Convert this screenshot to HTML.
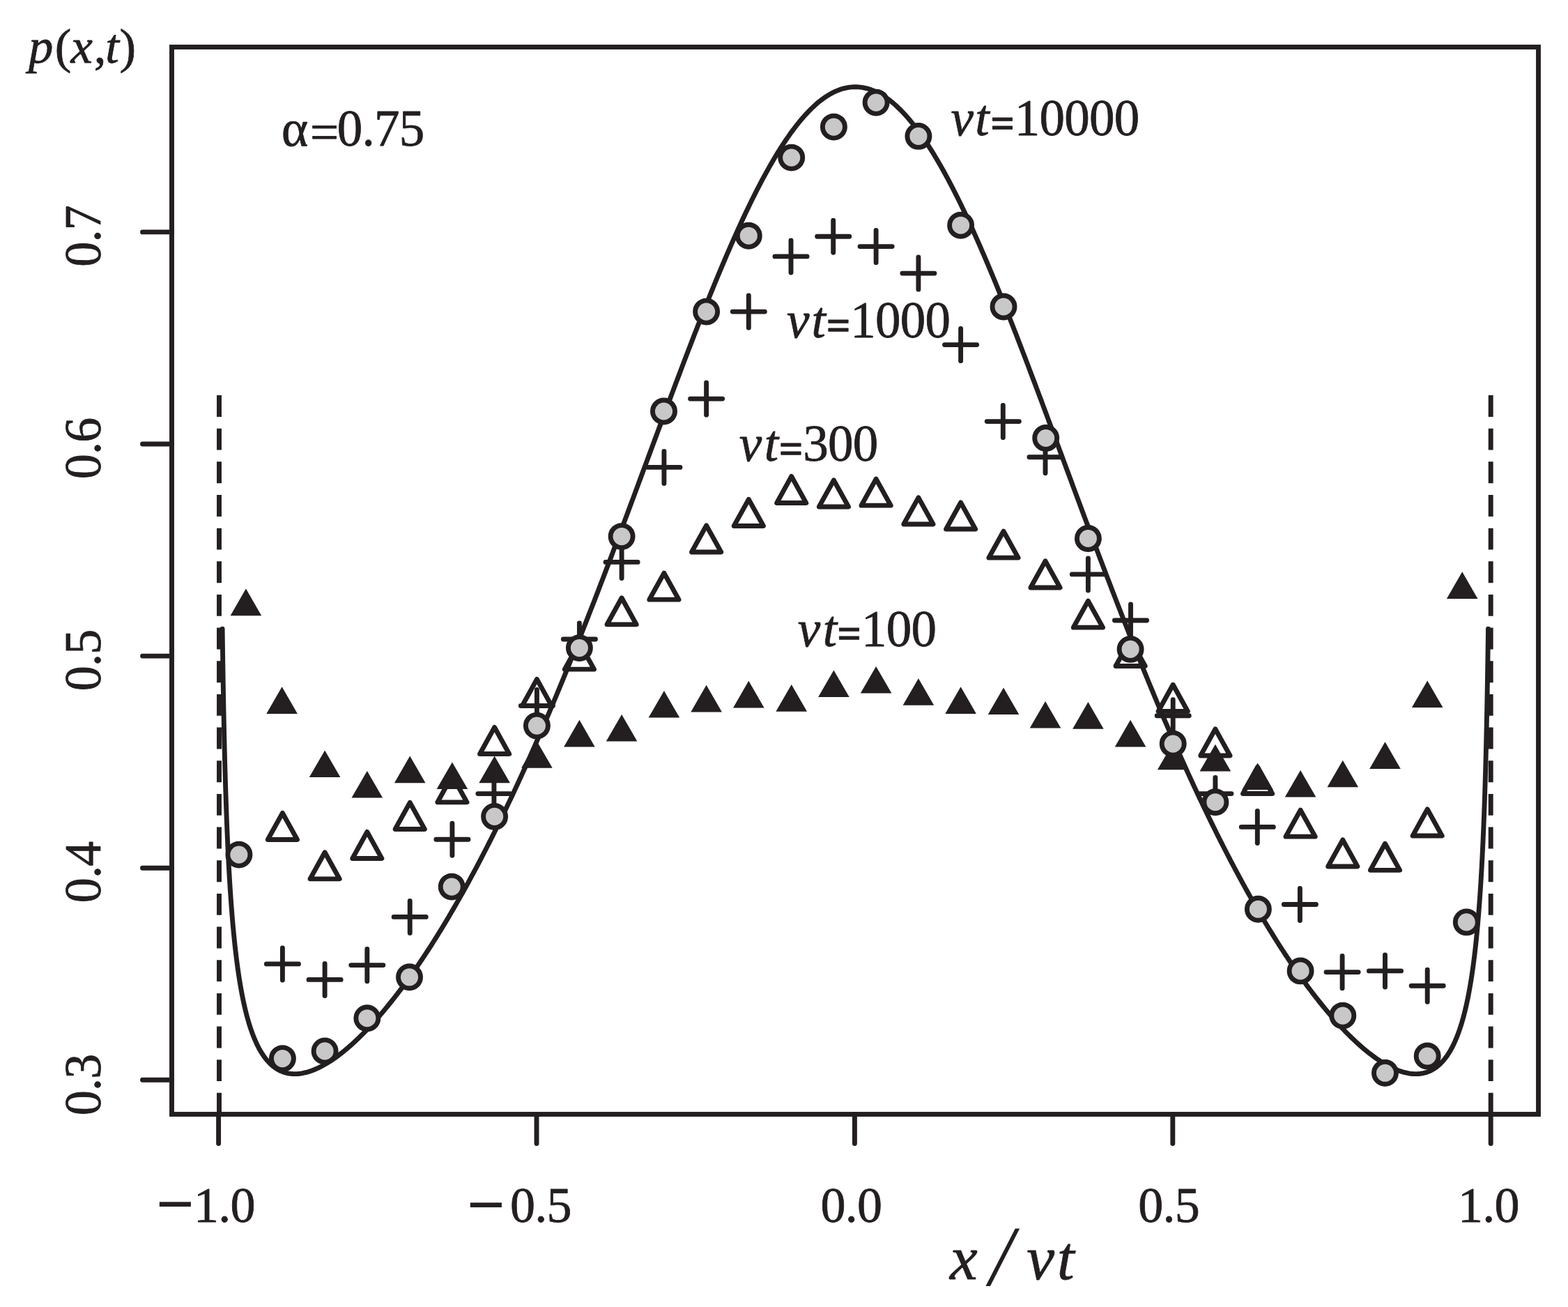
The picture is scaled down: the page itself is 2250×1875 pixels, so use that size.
<!DOCTYPE html>
<html lang="en"><head><meta charset="utf-8"><title>p(x,t) versus x/vt, alpha=0.75</title>
<style>
html,body{margin:0;padding:0;background:#fff;}
body{width:2250px;height:1875px;overflow:hidden;}
svg{display:block;}
text{font-family:"Liberation Serif","DejaVu Serif",serif;fill:#231f20;stroke:#231f20;stroke-width:0.8px;stroke-linejoin:round;}
.i{font-style:italic;}
.b{font-weight:bold;}
</style></head><body>
<svg xmlns="http://www.w3.org/2000/svg" width="2250" height="1875" viewBox="0 0 2250 1875">
<rect x="0" y="0" width="2250" height="1875" fill="#ffffff"/>
<line x1="314.50" y1="567.00" x2="314.50" y2="1598.50" stroke="#231f20" stroke-width="6.90" stroke-dasharray="30.90 16.76"/>
<line x1="2139.20" y1="567.00" x2="2139.20" y2="1598.50" stroke="#231f20" stroke-width="6.90" stroke-dasharray="30.90 16.76"/>
<path d="M319.09 902.10 L319.09 902.35 L319.10 903.09 L319.12 904.31 L319.14 906.03 L319.17 908.21 L319.20 910.86 L319.24 913.95 L319.29 917.48 L319.34 921.43 L319.40 925.77 L319.47 930.50 L319.54 935.58 L319.62 941.00 L319.70 946.74 L319.79 952.76 L319.89 959.06 L319.99 965.60 L320.10 972.37 L320.21 979.35 L320.34 986.50 L320.46 993.81 L320.60 1001.27 L320.74 1008.85 L320.88 1016.52 L321.04 1024.29 L321.19 1032.12 L321.36 1040.01 L321.53 1047.94 L321.71 1055.89 L321.89 1063.85 L322.08 1071.82 L322.28 1079.77 L322.48 1087.71 L322.69 1095.61 L322.90 1103.48 L323.12 1111.30 L323.35 1119.07 L323.58 1126.78 L323.82 1134.43 L324.07 1142.01 L324.32 1149.51 L324.58 1156.94 L324.84 1164.28 L325.11 1171.55 L325.39 1178.72 L325.67 1185.81 L325.96 1192.81 L326.25 1199.71 L326.55 1206.52 L326.86 1213.24 L327.17 1219.86 L327.49 1226.39 L327.82 1232.82 L328.15 1239.16 L328.49 1245.39 L328.83 1251.54 L329.18 1257.58 L329.54 1263.54 L329.90 1269.39 L330.27 1275.16 L330.65 1280.83 L331.03 1286.40 L331.42 1291.89 L331.81 1297.28 L332.21 1302.59 L332.62 1307.80 L333.03 1312.93 L333.45 1317.97 L333.87 1322.93 L334.30 1327.80 L334.74 1332.58 L335.18 1337.29 L335.63 1341.91 L336.08 1346.45 L336.54 1350.92 L337.01 1355.30 L337.48 1359.61 L337.96 1363.84 L338.45 1368.00 L338.94 1372.08 L339.44 1376.09 L339.94 1380.03 L340.45 1383.90 L340.96 1387.70 L341.49 1391.44 L342.01 1395.10 L342.55 1398.70 L343.09 1402.24 L343.63 1405.71 L344.19 1409.11 L344.74 1412.46 L345.31 1415.74 L345.88 1418.97 L346.45 1422.13 L347.04 1425.24 L347.62 1428.28 L348.22 1431.28 L348.82 1434.21 L349.43 1437.09 L350.04 1439.92 L350.66 1442.69 L351.28 1445.41 L351.91 1448.08 L352.55 1450.70 L353.19 1453.27 L353.84 1455.79 L354.49 1458.26 L355.15 1460.68 L355.82 1463.06 L356.49 1465.38 L357.17 1467.66 L357.85 1469.90 L358.54 1472.09 L359.24 1474.24 L359.94 1476.34 L360.65 1478.41 L361.36 1480.42 L362.08 1482.40 L362.81 1484.34 L363.54 1486.23 L364.28 1488.09 L365.02 1489.90 L365.77 1491.68 L366.53 1493.41 L367.29 1495.11 L368.06 1496.78 L368.83 1498.40 L369.61 1499.99 L370.39 1501.54 L371.18 1503.05 L371.98 1504.53 L372.78 1505.98 L373.59 1507.39 L374.41 1508.77 L375.23 1510.11 L376.05 1511.42 L376.88 1512.69 L377.72 1513.94 L378.57 1515.15 L379.41 1516.32 L380.27 1517.47 L381.13 1518.59 L382.00 1519.67 L382.87 1520.73 L383.75 1521.75 L384.63 1522.74 L385.52 1523.71 L386.42 1524.64 L387.32 1525.55 L388.22 1526.42 L389.14 1527.27 L390.06 1528.09 L390.98 1528.88 L391.91 1529.65 L392.85 1530.38 L393.79 1531.09 L394.73 1531.77 L395.69 1532.43 L396.65 1533.06 L397.61 1533.66 L398.58 1534.23 L399.56 1534.78 L400.54 1535.31 L401.52 1535.80 L402.52 1536.28 L403.51 1536.72 L404.52 1537.15 L405.53 1537.54 L406.54 1537.92 L407.56 1538.27 L408.59 1538.59 L409.62 1538.89 L410.66 1539.17 L411.70 1539.42 L412.75 1539.65 L413.81 1539.85 L414.87 1540.03 L415.93 1540.19 L417.00 1540.33 L418.08 1540.44 L419.16 1540.53 L420.25 1540.60 L421.34 1540.64 L422.44 1540.67 L423.55 1540.67 L424.66 1540.64 L425.77 1540.60 L426.89 1540.53 L428.02 1540.45 L429.15 1540.34 L430.29 1540.21 L431.43 1540.05 L432.58 1539.88 L433.73 1539.68 L434.89 1539.47 L436.06 1539.23 L437.23 1538.97 L438.40 1538.69 L439.58 1538.39 L440.77 1538.07 L441.96 1537.72 L443.16 1537.36 L444.36 1536.98 L445.57 1536.57 L446.78 1536.15 L448.00 1535.70 L449.22 1535.24 L450.45 1534.75 L451.69 1534.24 L452.92 1533.72 L454.17 1533.17 L455.42 1532.60 L456.68 1532.02 L457.94 1531.41 L459.20 1530.78 L460.47 1530.14 L461.75 1529.47 L463.03 1528.79 L464.32 1528.08 L465.61 1527.35 L466.91 1526.61 L468.21 1525.84 L469.52 1525.06 L470.83 1524.26 L472.15 1523.43 L473.48 1522.59 L474.80 1521.72 L476.14 1520.84 L477.48 1519.94 L478.82 1519.02 L480.17 1518.08 L481.53 1517.12 L482.88 1516.14 L484.25 1515.14 L485.62 1514.12 L486.99 1513.08 L488.37 1512.02 L489.76 1510.95 L491.15 1509.85 L492.54 1508.74 L493.94 1507.60 L495.35 1506.45 L496.76 1505.27 L498.17 1504.08 L499.59 1502.87 L501.02 1501.63 L502.45 1500.38 L503.88 1499.11 L505.32 1497.82 L506.77 1496.51 L508.22 1495.18 L509.67 1493.84 L511.13 1492.47 L512.60 1491.08 L514.07 1489.67 L515.54 1488.25 L517.02 1486.80 L518.51 1485.33 L520.00 1483.85 L521.49 1482.34 L522.99 1480.82 L524.49 1479.28 L526.00 1477.71 L527.51 1476.13 L529.03 1474.53 L530.55 1472.90 L532.08 1471.26 L533.61 1469.60 L535.15 1467.92 L536.69 1466.21 L538.24 1464.49 L539.79 1462.75 L541.35 1460.99 L542.91 1459.20 L544.47 1457.40 L546.04 1455.58 L547.62 1453.74 L549.20 1451.88 L550.78 1449.99 L552.37 1448.09 L553.96 1446.17 L555.56 1444.22 L557.16 1442.26 L558.77 1440.27 L560.38 1438.27 L562.00 1436.24 L563.62 1434.20 L565.24 1432.13 L566.87 1430.04 L568.51 1427.94 L570.15 1425.81 L571.79 1423.66 L573.44 1421.49 L575.09 1419.30 L576.75 1417.08 L578.41 1414.85 L580.08 1412.60 L581.75 1410.32 L583.42 1408.02 L585.10 1405.71 L586.78 1403.37 L588.47 1401.01 L590.16 1398.62 L591.86 1396.22 L593.56 1393.80 L595.27 1391.35 L596.98 1388.88 L598.69 1386.39 L600.41 1383.88 L602.13 1381.35 L603.86 1378.79 L605.59 1376.21 L607.32 1373.62 L609.06 1370.99 L610.81 1368.35 L612.56 1365.68 L614.31 1363.00 L616.06 1360.29 L617.82 1357.55 L619.59 1354.80 L621.36 1352.02 L623.13 1349.22 L624.91 1346.40 L626.69 1343.55 L628.48 1340.69 L630.27 1337.80 L632.06 1334.88 L633.86 1331.94 L635.66 1328.99 L637.47 1326.00 L639.28 1323.00 L641.09 1319.97 L642.91 1316.92 L644.73 1313.84 L646.56 1310.74 L648.39 1307.62 L650.22 1304.47 L652.06 1301.30 L653.90 1298.11 L655.75 1294.89 L657.60 1291.65 L659.45 1288.39 L661.31 1285.10 L663.17 1281.79 L665.03 1278.45 L666.90 1275.09 L668.78 1271.71 L670.65 1268.30 L672.53 1264.87 L674.42 1261.41 L676.31 1257.93 L678.20 1254.42 L680.09 1250.89 L681.99 1247.34 L683.90 1243.76 L685.80 1240.15 L687.71 1236.53 L689.63 1232.87 L691.55 1229.20 L693.47 1225.49 L695.39 1221.77 L697.32 1218.01 L699.26 1214.24 L701.19 1210.43 L703.13 1206.61 L705.08 1202.75 L707.02 1198.88 L708.97 1194.97 L710.93 1191.05 L712.88 1187.09 L714.85 1183.12 L716.81 1179.11 L718.78 1175.09 L720.75 1171.03 L722.73 1166.95 L724.71 1162.85 L726.69 1158.72 L728.67 1154.56 L730.66 1150.38 L732.65 1146.18 L734.65 1141.95 L736.65 1137.69 L738.65 1133.41 L740.66 1129.10 L742.67 1124.77 L744.68 1120.41 L746.70 1116.02 L748.71 1111.61 L750.74 1107.18 L752.76 1102.72 L754.79 1098.23 L756.82 1093.72 L758.86 1089.18 L760.90 1084.62 L762.94 1080.04 L764.98 1075.42 L767.03 1070.79 L769.08 1066.12 L771.14 1061.43 L773.20 1056.72 L775.26 1051.98 L777.32 1047.22 L779.39 1042.43 L781.46 1037.62 L783.53 1032.78 L785.61 1027.92 L787.69 1023.03 L789.77 1018.12 L791.85 1013.18 L793.94 1008.22 L796.03 1003.23 L798.13 998.22 L800.22 993.19 L802.32 988.13 L804.42 983.05 L806.53 977.94 L808.64 972.81 L810.75 967.66 L812.86 962.48 L814.98 957.28 L817.10 952.06 L819.22 946.81 L821.35 941.54 L823.48 936.25 L825.61 930.94 L827.74 925.60 L829.88 920.24 L832.02 914.86 L834.16 909.46 L836.31 904.03 L838.45 898.59 L840.60 893.12 L842.76 887.63 L844.91 882.12 L847.07 876.59 L849.23 871.04 L851.39 865.47 L853.56 859.88 L855.73 854.27 L857.90 848.64 L860.07 842.99 L862.25 837.33 L864.43 831.64 L866.61 825.94 L868.79 820.22 L870.98 814.48 L873.16 808.72 L875.36 802.95 L877.55 797.16 L879.74 791.36 L881.94 785.54 L884.14 779.70 L886.34 773.85 L888.55 767.98 L890.76 762.10 L892.97 756.20 L895.18 750.30 L897.39 744.38 L899.61 738.44 L901.83 732.50 L904.05 726.54 L906.27 720.57 L908.50 714.59 L910.72 708.60 L912.95 702.60 L915.19 696.59 L917.42 690.57 L919.66 684.55 L921.89 678.51 L924.13 672.47 L926.38 666.42 L928.62 660.37 L930.87 654.31 L933.12 648.24 L935.37 642.17 L937.62 636.10 L939.87 630.02 L942.13 623.95 L944.39 617.86 L946.65 611.78 L948.91 605.70 L951.17 599.62 L953.44 593.54 L955.71 587.46 L957.98 581.38 L960.25 575.30 L962.52 569.23 L964.80 563.16 L967.08 557.10 L969.35 551.04 L971.64 544.99 L973.92 538.95 L976.20 532.91 L978.49 526.88 L980.78 520.87 L983.06 514.86 L985.36 508.86 L987.65 502.88 L989.94 496.91 L992.24 490.95 L994.54 485.01 L996.83 479.08 L999.14 473.17 L1001.44 467.28 L1003.74 461.40 L1006.05 455.55 L1008.35 449.71 L1010.66 443.89 L1012.97 438.10 L1015.28 432.33 L1017.60 426.58 L1019.91 420.86 L1022.23 415.16 L1024.54 409.48 L1026.86 403.84 L1029.18 398.22 L1031.50 392.64 L1033.82 387.08 L1036.15 381.55 L1038.47 376.06 L1040.80 370.60 L1043.13 365.17 L1045.46 359.78 L1047.79 354.42 L1050.12 349.11 L1052.45 343.83 L1054.78 338.59 L1057.12 333.38 L1059.45 328.23 L1061.79 323.11 L1064.13 318.03 L1066.47 313.00 L1068.81 308.02 L1071.15 303.08 L1073.50 298.19 L1075.84 293.35 L1078.18 288.55 L1080.53 283.81 L1082.88 279.12 L1085.22 274.48 L1087.57 269.90 L1089.92 265.36 L1092.27 260.89 L1094.63 256.47 L1096.98 252.11 L1099.33 247.80 L1101.69 243.56 L1104.04 239.37 L1106.40 235.25 L1108.75 231.19 L1111.11 227.19 L1113.47 223.25 L1115.83 219.38 L1118.19 215.58 L1120.55 211.84 L1122.91 208.17 L1125.28 204.57 L1127.64 201.04 L1130.00 197.58 L1132.37 194.19 L1134.73 190.87 L1137.10 187.63 L1139.46 184.46 L1141.83 181.36 L1144.20 178.34 L1146.57 175.39 L1148.93 172.52 L1151.30 169.73 L1153.67 167.02 L1156.04 164.38 L1158.41 161.83 L1160.78 159.35 L1163.16 156.96 L1165.53 154.65 L1167.90 152.42 L1170.27 150.27 L1172.65 148.20 L1175.02 146.22 L1177.39 144.32 L1179.77 142.51 L1182.14 140.79 L1184.52 139.14 L1186.89 137.59 L1189.27 136.12 L1191.64 134.74 L1194.02 133.45 L1196.40 132.24 L1198.77 131.12 L1201.15 130.09 L1203.53 129.15 L1205.90 128.30 L1208.28 127.53 L1210.66 126.86 L1213.03 126.28 L1215.41 125.78 L1217.79 125.38 L1220.17 125.06 L1222.54 124.83 L1224.92 124.70 L1227.30 124.65 L1229.68 124.70 L1232.06 124.83 L1234.43 125.06 L1236.81 125.38 L1239.19 125.78 L1241.57 126.28 L1243.94 126.86 L1246.32 127.53 L1248.70 128.30 L1251.07 129.15 L1253.45 130.09 L1255.83 131.12 L1258.20 132.24 L1260.58 133.45 L1262.96 134.74 L1265.33 136.12 L1267.71 137.59 L1270.08 139.14 L1272.46 140.79 L1274.83 142.51 L1277.21 144.32 L1279.58 146.22 L1281.95 148.20 L1284.33 150.27 L1286.70 152.42 L1289.07 154.65 L1291.44 156.96 L1293.82 159.35 L1296.19 161.83 L1298.56 164.38 L1300.93 167.02 L1303.30 169.73 L1305.67 172.52 L1308.03 175.39 L1310.40 178.34 L1312.77 181.36 L1315.14 184.46 L1317.50 187.63 L1319.87 190.87 L1322.23 194.19 L1324.60 197.58 L1326.96 201.04 L1329.32 204.57 L1331.69 208.17 L1334.05 211.84 L1336.41 215.58 L1338.77 219.38 L1341.13 223.25 L1343.49 227.19 L1345.85 231.19 L1348.20 235.25 L1350.56 239.37 L1352.91 243.56 L1355.27 247.80 L1357.62 252.11 L1359.97 256.47 L1362.33 260.89 L1364.68 265.36 L1367.03 269.90 L1369.38 274.48 L1371.72 279.12 L1374.07 283.81 L1376.42 288.55 L1378.76 293.35 L1381.10 298.19 L1383.45 303.08 L1385.79 308.02 L1388.13 313.00 L1390.47 318.03 L1392.81 323.11 L1395.15 328.23 L1397.48 333.38 L1399.82 338.59 L1402.15 343.83 L1404.48 349.11 L1406.81 354.42 L1409.14 359.78 L1411.47 365.17 L1413.80 370.60 L1416.13 376.06 L1418.45 381.55 L1420.78 387.08 L1423.10 392.64 L1425.42 398.22 L1427.74 403.84 L1430.06 409.48 L1432.37 415.16 L1434.69 420.86 L1437.00 426.58 L1439.32 432.33 L1441.63 438.10 L1443.94 443.89 L1446.25 449.71 L1448.55 455.55 L1450.86 461.40 L1453.16 467.28 L1455.46 473.17 L1457.77 479.08 L1460.06 485.01 L1462.36 490.95 L1464.66 496.91 L1466.95 502.88 L1469.24 508.86 L1471.54 514.86 L1473.82 520.87 L1476.11 526.88 L1478.40 532.91 L1480.68 538.95 L1482.96 544.99 L1485.25 551.04 L1487.52 557.10 L1489.80 563.16 L1492.08 569.23 L1494.35 575.30 L1496.62 581.38 L1498.89 587.46 L1501.16 593.54 L1503.43 599.62 L1505.69 605.70 L1507.95 611.78 L1510.21 617.86 L1512.47 623.95 L1514.73 630.02 L1516.98 636.10 L1519.23 642.17 L1521.48 648.24 L1523.73 654.31 L1525.98 660.37 L1528.22 666.42 L1530.47 672.47 L1532.71 678.51 L1534.94 684.55 L1537.18 690.57 L1539.41 696.59 L1541.65 702.60 L1543.88 708.60 L1546.10 714.59 L1548.33 720.57 L1550.55 726.54 L1552.77 732.50 L1554.99 738.44 L1557.21 744.38 L1559.42 750.30 L1561.63 756.20 L1563.84 762.10 L1566.05 767.98 L1568.26 773.85 L1570.46 779.70 L1572.66 785.54 L1574.86 791.36 L1577.05 797.16 L1579.24 802.95 L1581.44 808.72 L1583.62 814.48 L1585.81 820.22 L1587.99 825.94 L1590.17 831.64 L1592.35 837.33 L1594.53 842.99 L1596.70 848.64 L1598.87 854.27 L1601.04 859.88 L1603.21 865.47 L1605.37 871.04 L1607.53 876.59 L1609.69 882.12 L1611.84 887.63 L1614.00 893.12 L1616.15 898.59 L1618.29 904.03 L1620.44 909.46 L1622.58 914.86 L1624.72 920.24 L1626.86 925.60 L1628.99 930.94 L1631.12 936.25 L1633.25 941.54 L1635.38 946.81 L1637.50 952.06 L1639.62 957.28 L1641.74 962.48 L1643.85 967.66 L1645.96 972.81 L1648.07 977.94 L1650.18 983.05 L1652.28 988.13 L1654.38 993.19 L1656.47 998.22 L1658.57 1003.23 L1660.66 1008.22 L1662.75 1013.18 L1664.83 1018.12 L1666.91 1023.03 L1668.99 1027.92 L1671.07 1032.78 L1673.14 1037.62 L1675.21 1042.43 L1677.28 1047.22 L1679.34 1051.98 L1681.40 1056.72 L1683.46 1061.43 L1685.52 1066.12 L1687.57 1070.79 L1689.62 1075.42 L1691.66 1080.04 L1693.70 1084.62 L1695.74 1089.18 L1697.78 1093.72 L1699.81 1098.23 L1701.84 1102.72 L1703.86 1107.18 L1705.89 1111.61 L1707.90 1116.02 L1709.92 1120.41 L1711.93 1124.77 L1713.94 1129.10 L1715.95 1133.41 L1717.95 1137.69 L1719.95 1141.95 L1721.95 1146.18 L1723.94 1150.38 L1725.93 1154.56 L1727.91 1158.72 L1729.89 1162.85 L1731.87 1166.95 L1733.85 1171.03 L1735.82 1175.09 L1737.79 1179.11 L1739.75 1183.12 L1741.72 1187.09 L1743.67 1191.05 L1745.63 1194.97 L1747.58 1198.88 L1749.52 1202.75 L1751.47 1206.61 L1753.41 1210.43 L1755.34 1214.24 L1757.28 1218.01 L1759.21 1221.77 L1761.13 1225.49 L1763.05 1229.20 L1764.97 1232.87 L1766.89 1236.53 L1768.80 1240.15 L1770.70 1243.76 L1772.61 1247.34 L1774.51 1250.89 L1776.40 1254.42 L1778.29 1257.93 L1780.18 1261.41 L1782.07 1264.87 L1783.95 1268.30 L1785.82 1271.71 L1787.70 1275.09 L1789.57 1278.45 L1791.43 1281.79 L1793.29 1285.10 L1795.15 1288.39 L1797.00 1291.65 L1798.85 1294.89 L1800.70 1298.11 L1802.54 1301.30 L1804.38 1304.47 L1806.21 1307.62 L1808.04 1310.74 L1809.87 1313.84 L1811.69 1316.92 L1813.51 1319.97 L1815.32 1323.00 L1817.13 1326.00 L1818.94 1328.99 L1820.74 1331.94 L1822.54 1334.88 L1824.33 1337.80 L1826.12 1340.69 L1827.91 1343.55 L1829.69 1346.40 L1831.47 1349.22 L1833.24 1352.02 L1835.01 1354.80 L1836.78 1357.55 L1838.54 1360.29 L1840.29 1363.00 L1842.04 1365.68 L1843.79 1368.35 L1845.54 1370.99 L1847.28 1373.62 L1849.01 1376.21 L1850.74 1378.79 L1852.47 1381.35 L1854.19 1383.88 L1855.91 1386.39 L1857.62 1388.88 L1859.33 1391.35 L1861.04 1393.80 L1862.74 1396.22 L1864.44 1398.62 L1866.13 1401.01 L1867.82 1403.37 L1869.50 1405.71 L1871.18 1408.02 L1872.85 1410.32 L1874.52 1412.60 L1876.19 1414.85 L1877.85 1417.08 L1879.51 1419.30 L1881.16 1421.49 L1882.81 1423.66 L1884.45 1425.81 L1886.09 1427.94 L1887.73 1430.04 L1889.36 1432.13 L1890.98 1434.20 L1892.60 1436.24 L1894.22 1438.27 L1895.83 1440.27 L1897.44 1442.26 L1899.04 1444.22 L1900.64 1446.17 L1902.23 1448.09 L1903.82 1449.99 L1905.40 1451.88 L1906.98 1453.74 L1908.56 1455.58 L1910.13 1457.40 L1911.69 1459.20 L1913.25 1460.99 L1914.81 1462.75 L1916.36 1464.49 L1917.91 1466.21 L1919.45 1467.92 L1920.99 1469.60 L1922.52 1471.26 L1924.05 1472.90 L1925.57 1474.53 L1927.09 1476.13 L1928.60 1477.71 L1930.11 1479.28 L1931.61 1480.82 L1933.11 1482.34 L1934.60 1483.85 L1936.09 1485.33 L1937.58 1486.80 L1939.06 1488.25 L1940.53 1489.67 L1942.00 1491.08 L1943.47 1492.47 L1944.93 1493.84 L1946.38 1495.18 L1947.83 1496.51 L1949.28 1497.82 L1950.72 1499.11 L1952.15 1500.38 L1953.58 1501.63 L1955.01 1502.87 L1956.43 1504.08 L1957.84 1505.27 L1959.25 1506.45 L1960.66 1507.60 L1962.06 1508.74 L1963.45 1509.85 L1964.84 1510.95 L1966.23 1512.02 L1967.61 1513.08 L1968.98 1514.12 L1970.35 1515.14 L1971.72 1516.14 L1973.07 1517.12 L1974.43 1518.08 L1975.78 1519.02 L1977.12 1519.94 L1978.46 1520.84 L1979.80 1521.72 L1981.12 1522.59 L1982.45 1523.43 L1983.77 1524.26 L1985.08 1525.06 L1986.39 1525.84 L1987.69 1526.61 L1988.99 1527.35 L1990.28 1528.08 L1991.57 1528.79 L1992.85 1529.47 L1994.13 1530.14 L1995.40 1530.78 L1996.66 1531.41 L1997.92 1532.02 L1999.18 1532.60 L2000.43 1533.17 L2001.68 1533.72 L2002.91 1534.24 L2004.15 1534.75 L2005.38 1535.24 L2006.60 1535.70 L2007.82 1536.15 L2009.03 1536.57 L2010.24 1536.98 L2011.44 1537.36 L2012.64 1537.72 L2013.83 1538.07 L2015.02 1538.39 L2016.20 1538.69 L2017.37 1538.97 L2018.54 1539.23 L2019.71 1539.47 L2020.87 1539.68 L2022.02 1539.88 L2023.17 1540.05 L2024.31 1540.21 L2025.45 1540.34 L2026.58 1540.45 L2027.71 1540.53 L2028.83 1540.60 L2029.94 1540.64 L2031.05 1540.67 L2032.16 1540.67 L2033.26 1540.64 L2034.35 1540.60 L2035.44 1540.53 L2036.52 1540.44 L2037.60 1540.33 L2038.67 1540.19 L2039.73 1540.03 L2040.79 1539.85 L2041.85 1539.65 L2042.90 1539.42 L2043.94 1539.17 L2044.98 1538.89 L2046.01 1538.59 L2047.04 1538.27 L2048.06 1537.92 L2049.07 1537.54 L2050.08 1537.15 L2051.09 1536.72 L2052.08 1536.28 L2053.08 1535.80 L2054.06 1535.31 L2055.04 1534.78 L2056.02 1534.23 L2056.99 1533.66 L2057.95 1533.06 L2058.91 1532.43 L2059.87 1531.77 L2060.81 1531.09 L2061.75 1530.38 L2062.69 1529.65 L2063.62 1528.88 L2064.54 1528.09 L2065.46 1527.27 L2066.38 1526.42 L2067.28 1525.55 L2068.18 1524.64 L2069.08 1523.71 L2069.97 1522.74 L2070.85 1521.75 L2071.73 1520.73 L2072.60 1519.67 L2073.47 1518.59 L2074.33 1517.47 L2075.19 1516.32 L2076.03 1515.15 L2076.88 1513.94 L2077.72 1512.69 L2078.55 1511.42 L2079.37 1510.11 L2080.19 1508.77 L2081.01 1507.39 L2081.82 1505.98 L2082.62 1504.53 L2083.42 1503.05 L2084.21 1501.54 L2084.99 1499.99 L2085.77 1498.40 L2086.54 1496.78 L2087.31 1495.11 L2088.07 1493.41 L2088.83 1491.68 L2089.58 1489.90 L2090.32 1488.09 L2091.06 1486.23 L2091.79 1484.34 L2092.52 1482.40 L2093.24 1480.42 L2093.95 1478.41 L2094.66 1476.34 L2095.36 1474.24 L2096.06 1472.09 L2096.75 1469.90 L2097.43 1467.66 L2098.11 1465.38 L2098.78 1463.06 L2099.45 1460.68 L2100.11 1458.26 L2100.76 1455.79 L2101.41 1453.27 L2102.05 1450.70 L2102.69 1448.08 L2103.32 1445.41 L2103.94 1442.69 L2104.56 1439.92 L2105.17 1437.09 L2105.78 1434.21 L2106.38 1431.28 L2106.98 1428.28 L2107.56 1425.24 L2108.15 1422.13 L2108.72 1418.97 L2109.29 1415.74 L2109.86 1412.46 L2110.41 1409.11 L2110.97 1405.71 L2111.51 1402.24 L2112.05 1398.70 L2112.59 1395.10 L2113.11 1391.44 L2113.64 1387.70 L2114.15 1383.90 L2114.66 1380.03 L2115.16 1376.09 L2115.66 1372.08 L2116.15 1368.00 L2116.64 1363.84 L2117.12 1359.61 L2117.59 1355.30 L2118.06 1350.92 L2118.52 1346.45 L2118.97 1341.91 L2119.42 1337.29 L2119.86 1332.58 L2120.30 1327.80 L2120.73 1322.93 L2121.15 1317.97 L2121.57 1312.93 L2121.98 1307.80 L2122.39 1302.59 L2122.79 1297.28 L2123.18 1291.89 L2123.57 1286.40 L2123.95 1280.83 L2124.33 1275.16 L2124.70 1269.39 L2125.06 1263.54 L2125.42 1257.58 L2125.77 1251.54 L2126.11 1245.39 L2126.45 1239.16 L2126.78 1232.82 L2127.11 1226.39 L2127.43 1219.86 L2127.74 1213.24 L2128.05 1206.52 L2128.35 1199.71 L2128.64 1192.81 L2128.93 1185.81 L2129.21 1178.72 L2129.49 1171.55 L2129.76 1164.28 L2130.02 1156.94 L2130.28 1149.51 L2130.53 1142.01 L2130.78 1134.43 L2131.02 1126.78 L2131.25 1119.07 L2131.48 1111.30 L2131.70 1103.48 L2131.91 1095.61 L2132.12 1087.71 L2132.32 1079.77 L2132.52 1071.82 L2132.71 1063.85 L2132.89 1055.89 L2133.07 1047.94 L2133.24 1040.01 L2133.41 1032.12 L2133.56 1024.29 L2133.72 1016.52 L2133.86 1008.85 L2134.00 1001.27 L2134.14 993.81 L2134.26 986.50 L2134.39 979.35 L2134.50 972.37 L2134.61 965.60 L2134.71 959.06 L2134.81 952.76 L2134.90 946.74 L2134.98 941.00 L2135.06 935.58 L2135.13 930.50 L2135.20 925.77 L2135.26 921.43 L2135.31 917.48 L2135.36 913.95 L2135.40 910.86 L2135.43 908.21 L2135.46 906.03 L2135.48 904.31 L2135.50 903.09 L2135.51 902.35 L2135.51 902.10" fill="none" stroke="#231f20" stroke-width="6.90" stroke-linejoin="round" stroke-linecap="round"/>
<rect x="246.50" y="67.50" width="1961.00" height="1531.00" fill="none" stroke="#231f20" stroke-width="6.90"/>
<line x1="313.60" y1="1598.50" x2="313.60" y2="1640.50" stroke="#231f20" stroke-width="6.90" stroke-linecap="round"/>
<line x1="770.00" y1="1598.50" x2="770.00" y2="1640.50" stroke="#231f20" stroke-width="6.90" stroke-linecap="round"/>
<line x1="1226.40" y1="1598.50" x2="1226.40" y2="1640.50" stroke="#231f20" stroke-width="6.90" stroke-linecap="round"/>
<line x1="1682.80" y1="1598.50" x2="1682.80" y2="1640.50" stroke="#231f20" stroke-width="6.90" stroke-linecap="round"/>
<line x1="2139.20" y1="1598.50" x2="2139.20" y2="1640.50" stroke="#231f20" stroke-width="6.90" stroke-linecap="round"/>
<line x1="246.50" y1="1549.30" x2="204.50" y2="1549.30" stroke="#231f20" stroke-width="6.90" stroke-linecap="round"/>
<line x1="246.50" y1="1245.20" x2="204.50" y2="1245.20" stroke="#231f20" stroke-width="6.90" stroke-linecap="round"/>
<line x1="246.50" y1="941.10" x2="204.50" y2="941.10" stroke="#231f20" stroke-width="6.90" stroke-linecap="round"/>
<line x1="246.50" y1="637.00" x2="204.50" y2="637.00" stroke="#231f20" stroke-width="6.90" stroke-linecap="round"/>
<line x1="246.50" y1="332.90" x2="204.50" y2="332.90" stroke="#231f20" stroke-width="6.90" stroke-linecap="round"/>
<g fill="none" stroke="#231f20" stroke-width="6.90" stroke-linejoin="round">
<path d="M405.40 1166.35 L426.50 1204.45 L384.30 1204.45 Z"/>
<path d="M466.10 1222.75 L487.20 1260.85 L445.00 1260.85 Z"/>
<path d="M526.80 1193.45 L547.90 1231.55 L505.70 1231.55 Z"/>
<path d="M588.20 1151.35 L609.30 1189.45 L567.10 1189.45 Z"/>
<path d="M648.90 1112.75 L670.00 1150.85 L627.80 1150.85 Z"/>
<path d="M709.60 1043.45 L730.70 1081.55 L688.50 1081.55 Z"/>
<path d="M770.40 974.45 L791.50 1012.55 L749.30 1012.55 Z"/>
<path d="M831.40 922.05 L852.50 960.15 L810.30 960.15 Z"/>
<path d="M892.10 857.75 L913.20 895.85 L871.00 895.85 Z"/>
<path d="M952.90 822.05 L974.00 860.15 L931.80 860.15 Z"/>
<path d="M1013.60 753.85 L1034.70 791.95 L992.50 791.95 Z"/>
<path d="M1074.30 716.35 L1095.40 754.45 L1053.20 754.45 Z"/>
<path d="M1135.70 683.45 L1156.80 721.55 L1114.60 721.55 Z"/>
<path d="M1196.40 688.85 L1217.50 726.95 L1175.30 726.95 Z"/>
<path d="M1257.10 687.05 L1278.20 725.15 L1236.00 725.15 Z"/>
<path d="M1317.90 713.85 L1339.00 751.95 L1296.80 751.95 Z"/>
<path d="M1378.60 720.95 L1399.70 759.05 L1357.50 759.05 Z"/>
<path d="M1440.00 762.05 L1461.10 800.15 L1418.90 800.15 Z"/>
<path d="M1500.00 804.85 L1521.10 842.95 L1478.90 842.95 Z"/>
<path d="M1561.40 862.05 L1582.50 900.15 L1540.30 900.15 Z"/>
<path d="M1622.10 917.35 L1643.20 955.45 L1601.00 955.45 Z"/>
<path d="M1683.20 982.25 L1704.30 1020.35 L1662.10 1020.35 Z"/>
<path d="M1743.90 1045.85 L1765.00 1083.95 L1722.80 1083.95 Z"/>
<path d="M1804.60 1100.45 L1825.70 1138.55 L1783.50 1138.55 Z"/>
<path d="M1866.10 1162.05 L1887.20 1200.15 L1845.00 1200.15 Z"/>
<path d="M1926.80 1204.85 L1947.90 1242.95 L1905.70 1242.95 Z"/>
<path d="M1987.50 1210.25 L2008.60 1248.35 L1966.40 1248.35 Z"/>
<path d="M2048.20 1160.95 L2069.30 1199.05 L2027.10 1199.05 Z"/>
</g>
<g fill="#231f20" stroke="none">
<path d="M352.90 844.60 L375.20 883.20 L330.60 883.20 Z"/>
<path d="M404.60 985.30 L426.90 1023.90 L382.30 1023.90 Z"/>
<path d="M466.10 1076.40 L488.40 1115.00 L443.80 1115.00 Z"/>
<path d="M526.80 1106.00 L549.10 1144.60 L504.50 1144.60 Z"/>
<path d="M588.20 1084.60 L610.50 1123.20 L565.90 1123.20 Z"/>
<path d="M648.90 1093.50 L671.20 1132.10 L626.60 1132.10 Z"/>
<path d="M709.60 1084.60 L731.90 1123.20 L687.30 1123.20 Z"/>
<path d="M770.40 1063.20 L792.70 1101.80 L748.10 1101.80 Z"/>
<path d="M831.40 1032.80 L853.70 1071.40 L809.10 1071.40 Z"/>
<path d="M892.10 1025.00 L914.40 1063.60 L869.80 1063.60 Z"/>
<path d="M952.90 991.00 L975.20 1029.60 L930.60 1029.60 Z"/>
<path d="M1013.60 982.80 L1035.90 1021.40 L991.30 1021.40 Z"/>
<path d="M1074.30 976.80 L1096.60 1015.40 L1052.00 1015.40 Z"/>
<path d="M1135.70 982.10 L1158.00 1020.70 L1113.40 1020.70 Z"/>
<path d="M1196.40 961.40 L1218.70 1000.00 L1174.10 1000.00 Z"/>
<path d="M1257.10 956.00 L1279.40 994.60 L1234.80 994.60 Z"/>
<path d="M1317.90 973.20 L1340.20 1011.80 L1295.60 1011.80 Z"/>
<path d="M1378.60 985.30 L1400.90 1023.90 L1356.30 1023.90 Z"/>
<path d="M1440.00 986.40 L1462.30 1025.00 L1417.70 1025.00 Z"/>
<path d="M1500.00 1006.00 L1522.30 1044.60 L1477.70 1044.60 Z"/>
<path d="M1561.40 1007.10 L1583.70 1045.70 L1539.10 1045.70 Z"/>
<path d="M1622.10 1032.80 L1644.40 1071.40 L1599.80 1071.40 Z"/>
<path d="M1683.20 1065.70 L1705.50 1104.30 L1660.90 1104.30 Z"/>
<path d="M1743.90 1067.80 L1766.20 1106.40 L1721.60 1106.40 Z"/>
<path d="M1804.60 1094.40 L1826.90 1133.00 L1782.30 1133.00 Z"/>
<path d="M1866.10 1105.00 L1888.40 1143.60 L1843.80 1143.60 Z"/>
<path d="M1926.80 1090.70 L1949.10 1129.30 L1904.50 1129.30 Z"/>
<path d="M1987.50 1064.30 L2009.80 1102.90 L1965.20 1102.90 Z"/>
<path d="M2048.20 976.40 L2070.50 1015.00 L2025.90 1015.00 Z"/>
<path d="M2098.20 820.30 L2120.50 858.90 L2075.90 858.90 Z"/>
</g>
<g fill="none" stroke="#231f20" stroke-width="6.90" stroke-linecap="round">
<path d="M382.35 1382.90 H428.45 M405.40 1359.85 V1405.95"/>
<path d="M443.05 1405.40 H489.15 M466.10 1382.35 V1428.45"/>
<path d="M503.75 1384.60 H549.85 M526.80 1361.55 V1407.65"/>
<path d="M565.15 1315.40 H611.25 M588.20 1292.35 V1338.45"/>
<path d="M625.85 1204.30 H671.95 M648.90 1181.25 V1227.35"/>
<path d="M685.85 1138.60 H731.95 M708.90 1115.55 V1161.65"/>
<path d="M747.35 1012.50 H793.45 M770.40 989.45 V1035.55"/>
<path d="M808.35 917.00 H854.45 M831.40 893.95 V940.05"/>
<path d="M869.05 806.40 H915.15 M892.10 783.35 V829.45"/>
<path d="M929.85 670.40 H975.95 M952.90 647.35 V693.45"/>
<path d="M990.55 572.10 H1036.65 M1013.60 549.05 V595.15"/>
<path d="M1051.25 447.10 H1097.35 M1074.30 424.05 V470.15"/>
<path d="M1111.95 367.90 H1158.05 M1135.00 344.85 V390.95"/>
<path d="M1172.65 339.30 H1218.75 M1195.70 316.25 V362.35"/>
<path d="M1234.05 353.60 H1280.15 M1257.10 330.55 V376.65"/>
<path d="M1294.85 392.10 H1340.95 M1317.90 369.05 V415.15"/>
<path d="M1355.55 494.60 H1401.65 M1378.60 471.55 V517.65"/>
<path d="M1416.25 604.60 H1462.35 M1439.30 581.55 V627.65"/>
<path d="M1476.95 655.70 H1523.05 M1500.00 632.65 V678.75"/>
<path d="M1538.35 823.90 H1584.45 M1561.40 800.85 V846.95"/>
<path d="M1599.45 890.00 H1645.55 M1622.50 866.95 V913.05"/>
<path d="M1660.15 1026.80 H1706.25 M1683.20 1003.75 V1049.85"/>
<path d="M1720.85 1138.60 H1766.95 M1743.90 1115.55 V1161.65"/>
<path d="M1781.25 1186.40 H1827.35 M1804.30 1163.35 V1209.45"/>
<path d="M1842.35 1297.50 H1888.45 M1865.40 1274.45 V1320.55"/>
<path d="M1903.05 1394.60 H1949.15 M1926.10 1371.55 V1417.65"/>
<path d="M1964.45 1392.90 H2010.55 M1987.50 1369.85 V1415.95"/>
<path d="M2025.15 1414.30 H2071.25 M2048.20 1391.25 V1437.35"/>
</g>
<g fill="#c8c8c8" stroke="#231f20" stroke-width="6.90">
<circle cx="342.90" cy="1226.10" r="16.00"/>
<circle cx="405.40" cy="1518.60" r="16.00"/>
<circle cx="466.10" cy="1507.90" r="16.00"/>
<circle cx="526.80" cy="1460.70" r="16.00"/>
<circle cx="587.50" cy="1401.80" r="16.00"/>
<circle cx="648.20" cy="1272.10" r="16.00"/>
<circle cx="709.60" cy="1171.40" r="16.00"/>
<circle cx="770.40" cy="1041.10" r="16.00"/>
<circle cx="831.40" cy="929.60" r="16.00"/>
<circle cx="892.10" cy="769.60" r="16.00"/>
<circle cx="952.50" cy="590.00" r="16.00"/>
<circle cx="1013.60" cy="447.10" r="16.00"/>
<circle cx="1074.30" cy="338.20" r="16.00"/>
<circle cx="1135.70" cy="226.10" r="16.00"/>
<circle cx="1196.40" cy="182.10" r="16.00"/>
<circle cx="1257.10" cy="147.10" r="16.00"/>
<circle cx="1317.90" cy="195.40" r="16.00"/>
<circle cx="1378.60" cy="323.20" r="16.00"/>
<circle cx="1440.00" cy="440.00" r="16.00"/>
<circle cx="1500.70" cy="628.50" r="16.00"/>
<circle cx="1561.40" cy="772.50" r="16.00"/>
<circle cx="1622.10" cy="931.40" r="16.00"/>
<circle cx="1683.20" cy="1067.10" r="16.00"/>
<circle cx="1743.90" cy="1150.70" r="16.00"/>
<circle cx="1805.40" cy="1304.30" r="16.00"/>
<circle cx="1866.10" cy="1392.90" r="16.00"/>
<circle cx="1926.80" cy="1457.10" r="16.00"/>
<circle cx="1987.50" cy="1539.30" r="16.00"/>
<circle cx="2048.20" cy="1515.00" r="16.00"/>
<circle cx="2104.30" cy="1322.90" r="16.00"/>
</g>
<text y="89.80" font-size="70.7"><tspan x="41.10" class="i">p</tspan><tspan x="78.75">(</tspan><tspan x="101.40" class="i">x</tspan><tspan x="134.72">,</tspan><tspan x="151.23" class="i">t</tspan><tspan x="171.53">)</tspan></text>
<text y="209.00" font-size="73"><tspan x="404.10">α</tspan><tspan x="444.88" dy="4.65">=</tspan><tspan x="483.80" dy="-4.65" letter-spacing="-0.75">0.75</tspan></text>
<text y="194.20" font-size="73"><tspan x="1364.53" class="i">v</tspan><tspan x="1399.22" class="i">t</tspan><tspan x="1421.20" dy="2.35" class="b" font-size="61">=</tspan><tspan x="1455.70" dy="-2.35" letter-spacing="-0.75">10000</tspan></text>
<text y="484.30" font-size="73"><tspan x="1129.12" class="i">v</tspan><tspan x="1164.42" class="i">t</tspan><tspan x="1185.75" dy="2.35" class="b" font-size="61">=</tspan><tspan x="1220.28" dy="-2.35" letter-spacing="-0.75">1000</tspan></text>
<text y="661.40" font-size="73"><tspan x="1060.82" class="i">v</tspan><tspan x="1096.78" class="i">t</tspan><tspan x="1117.70" dy="2.35" class="b" font-size="61">=</tspan><tspan x="1152.25" dy="-2.35" letter-spacing="-0.75">300</tspan></text>
<text y="926.80" font-size="73"><tspan x="1144.67" class="i">v</tspan><tspan x="1180.67" class="i">t</tspan><tspan x="1201.15" dy="2.35" class="b" font-size="61">=</tspan><tspan x="1235.90" dy="-2.35" letter-spacing="-0.75">100</tspan></text>
<text y="1835.10" font-size="89.5"><tspan x="1362.90" class="i">x</tspan> <tspan x="1419.95" dy="8.55" class="i" font-size="122" stroke="none">/</tspan> <tspan x="1473.33" dy="-8.55" class="i">v</tspan><tspan x="1516.65" class="i">t</tspan></text>
<text y="1752.90" font-size="72"><tspan x="223.78" dy="6.82" class="b" font-size="97" stroke="none">−</tspan><tspan x="277.98" dy="-6.82" letter-spacing="-0.75">1.0</tspan></text>
<text y="1752.90" font-size="72"><tspan x="669.73" dy="7.82" class="b" font-size="97" stroke="none">−</tspan><tspan x="731.98" dy="-7.82" letter-spacing="-0.75">0.5</tspan></text>
<text y="1752.90" font-size="72"><tspan x="1177.40" letter-spacing="-0.75">0.0</tspan></text>
<text y="1752.90" font-size="72"><tspan x="1633.33" letter-spacing="-0.75">0.5</tspan></text>
<text y="1752.90" font-size="72"><tspan x="2091.88" letter-spacing="-0.75">1.0</tspan></text>
<text transform="translate(144.00 1600.25) rotate(-90) scale(1 1.035)" font-size="72" letter-spacing="-0.75">0.3</text>
<text transform="translate(144.00 1295.25) rotate(-90) scale(1 1.035)" font-size="72" letter-spacing="-0.75">0.4</text>
<text transform="translate(144.00 991.25) rotate(-90) scale(1 1.035)" font-size="72" letter-spacing="-0.75">0.5</text>
<text transform="translate(144.00 687.25) rotate(-90) scale(1 1.035)" font-size="72" letter-spacing="-0.75">0.6</text>
<text transform="translate(144.00 382.75) rotate(-90) scale(1 1.035)" font-size="72" letter-spacing="-0.75">0.7</text>

</svg>
</body></html>
